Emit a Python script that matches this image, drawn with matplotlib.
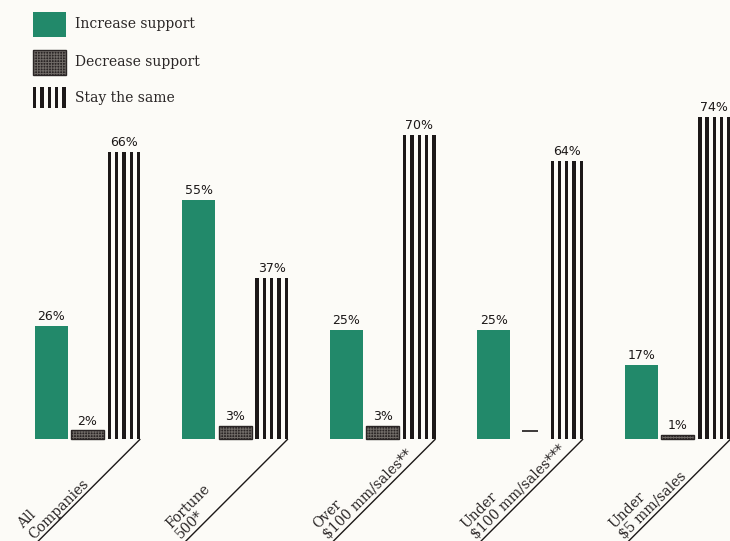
import numpy as np
import matplotlib
matplotlib.use("Agg")
import matplotlib.pyplot as plt
from matplotlib.patches import Rectangle
from matplotlib.transforms import ScaledTranslation

# ------------------------------------------------------------------
# Data (percent of companies)
# ------------------------------------------------------------------
categories = ["All\nCompanies", "Fortune\n500*", "Over\n$100 mm/sales**",
              "Under\n$100 mm/sales***", "Under\n$5 mm/sales"]
increase = [26, 55, 25, 25, 17]
decrease = [2, 3, 3, np.nan, 1]          # nan -> shown as a dash
same = [66, 37, 70, 64, 74]
series_names = ["Increase support", "Decrease support", "Stay the same"]

GREEN = "#22896a"
DARK = "#2a2525"
GRID = "#6f6a66"
INK = "#1c1818"
BG = "#fcfbf7"

# layout, in pixels of the 730x541 canvas
W, H = 730, 541
GROUP_PX = 147.6      # distance between group centres
PCT_PX = 4.35         # pixels per percent
X0_PX = 87.5          # centre of first group
BASE_PX = 439         # baseline, from top

plt.rcParams["hatch.linewidth"] = 0.7

fig = plt.figure(figsize=(W / 100, H / 100), dpi=100, facecolor=BG)
ax = fig.add_axes([0, 0, 1, 1])
ax.set_facecolor(BG)
ax.set_xlim(-X0_PX / GROUP_PX, (W - X0_PX) / GROUP_PX)
ax.set_ylim(-(H - BASE_PX) / PCT_PX, BASE_PX / PCT_PX)
ax.axis("off")

x = np.arange(len(categories))
off = 36.5 / GROUP_PX
bw = 33 / GROUP_PX

# increase / decrease bars
ax.bar(x - off, increase, width=bw, color=GREEN, linewidth=0)
dec = np.array(decrease, dtype=float)
ok = ~np.isnan(dec)
ax.bar(x[ok], dec[ok], width=bw, color=DARK, edgecolor=GRID, hatch="++++++", linewidth=0)
ax.bar(x[ok], dec[ok], width=bw, facecolor="none", edgecolor=DARK, linewidth=1.0)

# stay-the-same bars: five thin vertical strokes each
step = 7.3 / GROUP_PX
sw = 3.4 / GROUP_PX
for k in range(5):
    ax.bar(x + off + (k - 2) * step, same, width=sw, color=INK, linewidth=0)

# value labels
def label(xpos, val):
    ax.annotate(f"{val:.0f}%", (xpos, val), xytext=(0, 2), textcoords="offset points",
                ha="center", va="bottom", fontsize=9, family="DejaVu Sans", color=INK)

for i in range(len(categories)):
    label(x[i] - off, increase[i])
    if ok[i]:
        label(x[i], dec[i])
    else:
        ax.hlines(8 / PCT_PX, x[i] - 8 / GROUP_PX, x[i] + 8 / GROUP_PX, color=INK, lw=1.2)
    label(x[i] + off, same[i])

# slanted baselines with category names
corner = x + off + 2 * step + sw / 2
for i, name in enumerate(categories):
    d = 115
    ax.plot([corner[i], corner[i] - d / GROUP_PX], [0, -d / PCT_PX],
            color=INK, lw=1.0, solid_capstyle="butt")
    tr = ax.transData + ScaledTranslation(-1.07, -1.0, fig.dpi_scale_trans)
    ax.text(corner[i], 0, name, transform=tr, rotation=45, rotation_mode="anchor",
            ha="left", va="baseline", multialignment="left", linespacing=1.05,
            fontsize=10, family="DejaVu Serif", color="#2a2626")

# legend drawn by hand, top left
def fig_rect(x_px, y_px, w_px, h_px, **kw):
    fig.patches.append(Rectangle((x_px / W, 1 - (y_px + h_px) / H), w_px / W, h_px / H,
                                 transform=fig.transFigure, **kw))

fig_rect(33, 12, 33, 25, facecolor=GREEN, linewidth=0)
fig_rect(33, 50, 33, 25, facecolor=DARK, edgecolor=GRID, hatch="++++++", linewidth=0)
fig_rect(33, 50, 33, 25, facecolor="none", edgecolor=DARK, linewidth=1.0)
for k in range(5):
    fig_rect(33 + k * 7.3, 87, 3.4, 21, facecolor=INK, linewidth=0)

for name, yc in zip(series_names, [24, 62, 98]):
    fig.text(75 / W, 1 - yc / H, name, ha="left", va="center", fontsize=10,
             family="DejaVu Serif", color="#2a2626")

fig.savefig("out.png", dpi=100, facecolor=BG)
